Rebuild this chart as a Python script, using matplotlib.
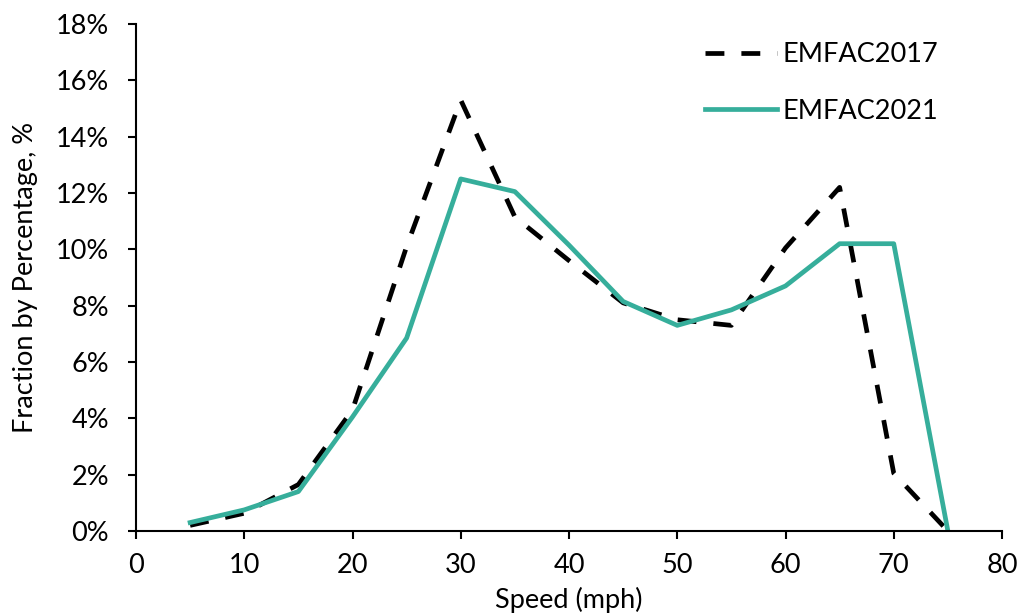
import matplotlib
matplotlib.use("Agg")
import matplotlib.pyplot as plt
from matplotlib.ticker import FuncFormatter

plt.rcParams['font.family'] = ['Lato', 'DejaVu Sans']

speed = [5, 10, 15, 20, 25, 30, 35, 40, 45, 50, 55, 60, 65, 70, 75]
emfac2017 = [0.2, 0.63, 1.65, 4.3, 10.1, 15.3, 11.15, 9.6, 8.1, 7.5, 7.3, 10.05, 12.2, 2.05, 0.0]
emfac2021 = [0.3, 0.75, 1.4, 4.05, 6.85, 12.5, 12.05, 10.15, 8.15, 7.3, 7.85, 8.7, 10.2, 10.2, 0.0]
xticks = list(range(0, 81, 10))
yticks = list(range(0, 19, 2))

FS = 19.5
fig = plt.figure(figsize=(10.23, 6.15), dpi=100)
ax = fig.add_axes([136/1023, 84/615, 866/1023, 507/615])

ax.plot(speed, emfac2017, color='black', lw=3.4, dashes=(4.0, 3.6), label='EMFAC2017')
ax.plot(speed, emfac2021, color='#36AE9B', lw=3.4, label='EMFAC2021')

ax.set_xlim(0, 80)
ax.set_ylim(0, 18)
ax.set_xticks(xticks)
ax.set_yticks(yticks)
ax.yaxis.set_major_formatter(FuncFormatter(lambda v, p: f"{int(v)}%"))
for s in ['top', 'right']:
    ax.spines[s].set_visible(False)
for s in ['left', 'bottom']:
    ax.spines[s].set_linewidth(1.5)
ax.tick_params(axis='both', direction='out', length=6, width=1.5, labelsize=FS)
ax.tick_params(axis='y', pad=13.5)
ax.tick_params(axis='x', pad=10)
ax.set_xlabel('Speed (mph)', fontsize=FS, labelpad=6)
ax.set_ylabel('Fraction by Percentage, %', fontsize=FS, labelpad=13)

leg = ax.legend(loc='upper left', bbox_to_anchor=(705/1023, 1 - 42/615), bbox_transform=fig.transFigure,
                frameon=False, fontsize=FS, borderpad=0, borderaxespad=0,
                handlelength=2.66, labelspacing=1.18, handletextpad=0.2)

fig.savefig('out.png', dpi=100)
